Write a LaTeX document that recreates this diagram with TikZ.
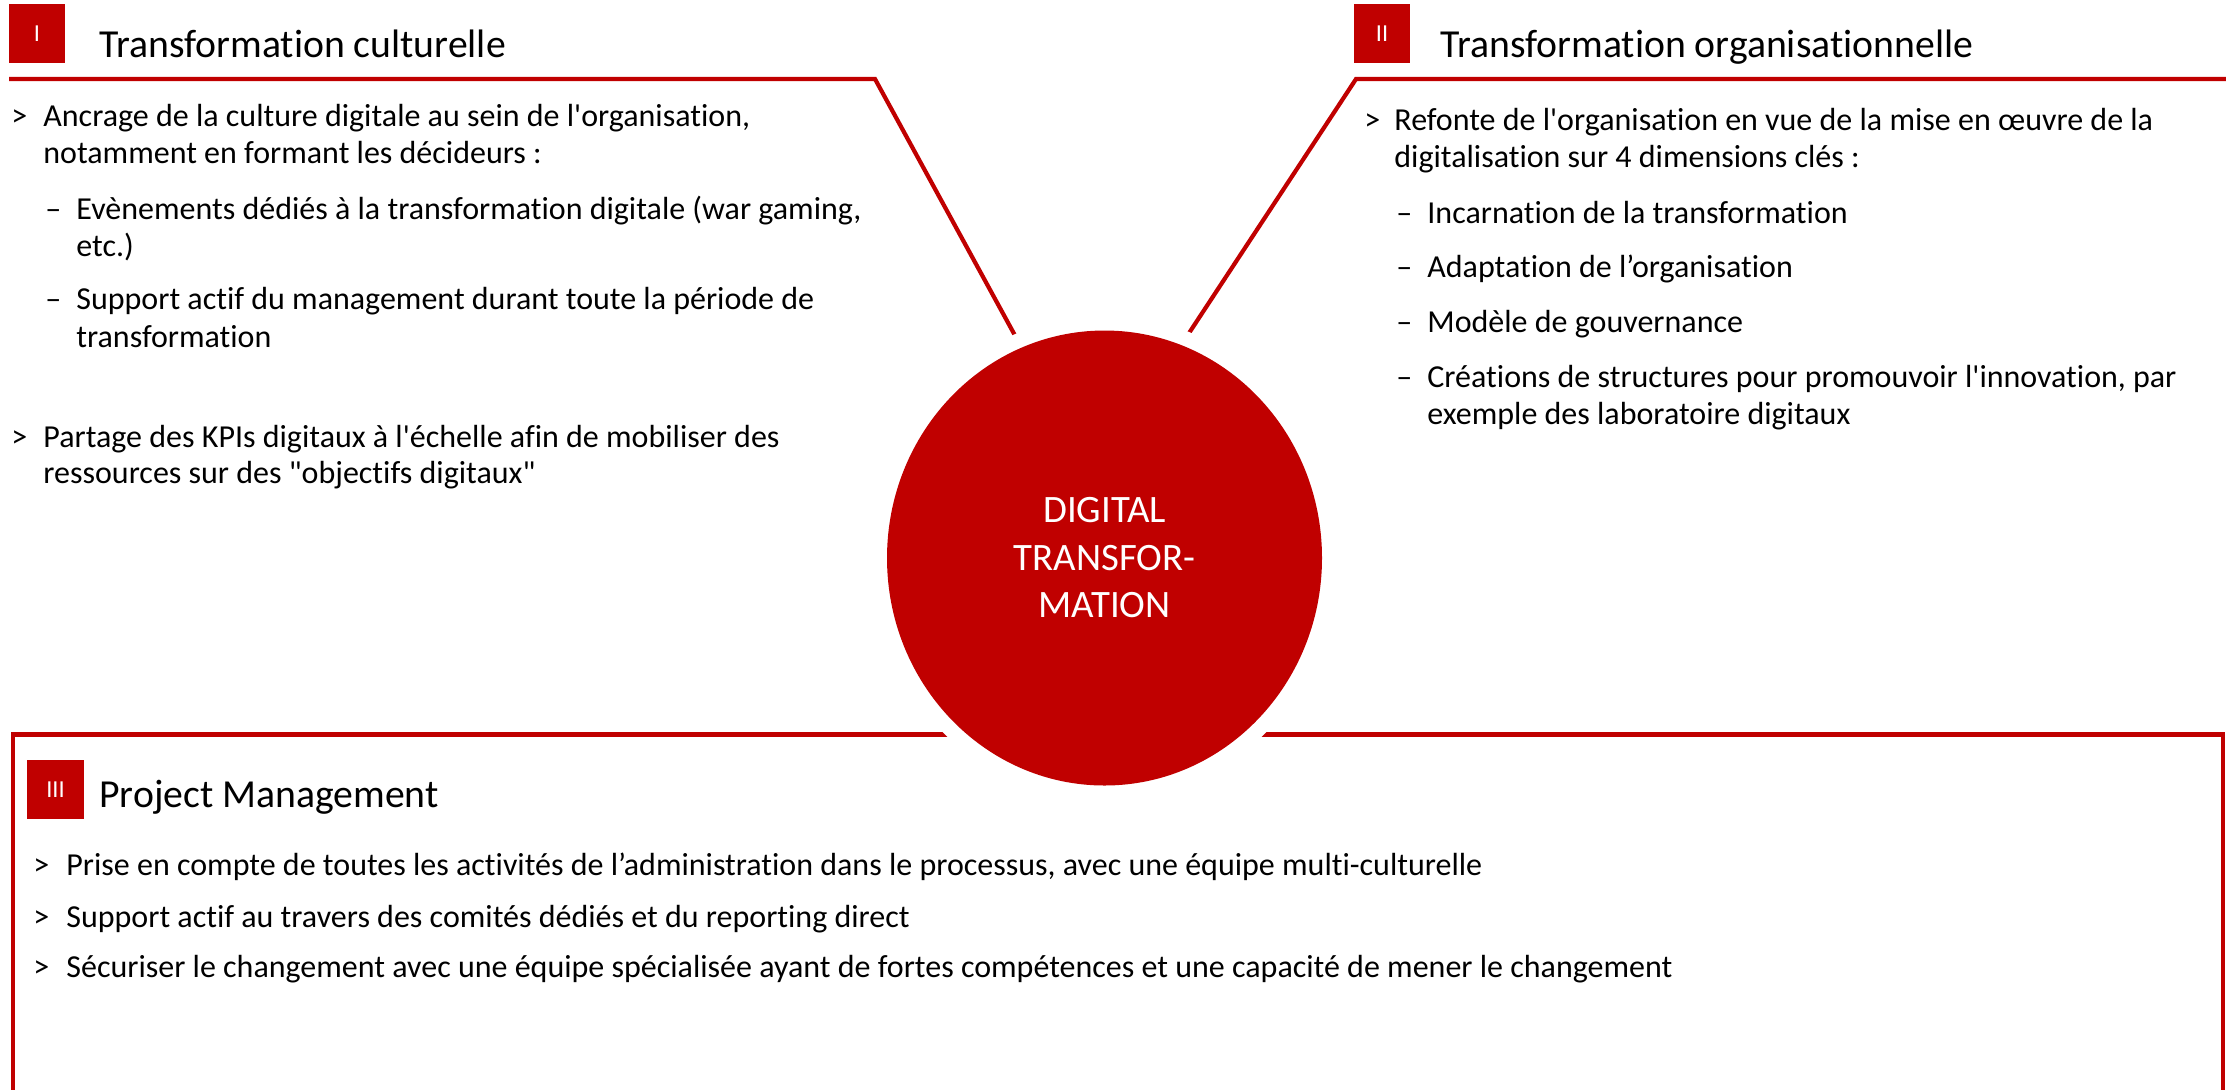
\documentclass[tikz,border=0pt]{standalone}
\usepackage{fontspec}
\setmainfont{Carlito}[Ligatures={TeXOff,NoCommon}]
\usetikzlibrary{shapes.geometric}
\definecolor{dtred}{HTML}{C00000}
\tikzset{
  body/.style={anchor=base west, inner sep=0pt, font=\fontsize{16}{18.5}\selectfont},
  ttl/.style={anchor=base west, inner sep=0pt, font=\fontsize{19.85}{23.5}\selectfont},
  numbox/.style={fill=dtred, text=white, inner sep=0pt, font=\fontsize{12.2}{14}\selectfont,
    minimum width=28pt, minimum height=29.5pt},
  frame/.style={draw=dtred, line width=2.1pt},
  core/.style={ellipse, fill=dtred, text=white, inner sep=0pt, align=center,
    minimum width=217.5pt, minimum height=227.5pt,
    font=\fontsize{19.4}{23.75}\selectfont,
    preaction={draw=white, line width=15pt}},
}
\begin{document}
\begin{tikzpicture}[x=0.5pt,y=-0.5pt]
\useasboundingbox (0,0) rectangle (2226,1089);
\clip (0,0) rectangle (2226,1089);
\fill[white] (0,0) rectangle (2226,1089);

% outlines
\coordinate (a1) at (9,79);
\coordinate (a2) at (875,79);
\coordinate (a3) at (1018,341);
\coordinate (c1) at (2226,79);
\coordinate (c2) at (1356,79);
\coordinate (c3) at (1185.5,338.4);
\coordinate (p1) at (13,1095);
\coordinate (p2) at (13,734.5);
\coordinate (p3) at (2223,734.5);
\coordinate (p4) at (2223,1095);
\draw[frame, line join=miter] (a1) -- (a2) -- (a3);
\draw[frame, line join=miter] (c1) -- (c2) -- (c3);
\draw[frame, line width=2.25pt, line join=miter] (p1) -- (p2) -- (p3) -- (p4);

% centre
\node[core] (dt) at (1104.5,558) {DIGITAL\\TRANSFOR-\\MATION};

% section I
\node[numbox] (n1) at (37,33.5) {I};
\node[ttl] (t1) at (99,57) {Transformation culturelle};
\node[body] (g1) at (11,126) {>};
\node[body] (g1a) at (43,126) {Ancrage de la culture digitale au sein de l'organisation,};
\node[body] (g1b) at (43,163) {notamment en formant les décideurs :};
\node[body] (h1) at (45,219) {–};
\node[body] (h1a) at (76,219) {Evènements dédiés à la transformation digitale (war gaming,};
\node[body] (h1b) at (76,256) {etc.)};
\node[body] (h2) at (45,309) {–};
\node[body] (h2a) at (76,309) {Support actif du management durant toute la période de};
\node[body] (h2b) at (76,347) {transformation};
\node[body] (g2) at (11,447) {>};
\node[body] (g2a) at (43,447) {Partage des KPIs digitaux à l'échelle afin de mobiliser des};
\node[body] (g2b) at (43,483) {ressources sur des "objectifs digitaux"};

% section II
\node[numbox] (n2) at (1382,33.5) {II};
\node[ttl] (t2) at (1440,57) {Transformation organisationnelle};
\node[body] (k1) at (1364,130) {>};
\node[body] (k1a) at (1394,130) {Refonte de l'organisation en vue de la mise en œuvre de la};
\node[body] (k1b) at (1394,167) {digitalisation sur 4 dimensions clés :};
\node[body] (m1) at (1396,223) {–};
\node[body] (m1a) at (1427,223) {Incarnation de la transformation};
\node[body] (m2) at (1396,277) {–};
\node[body] (m2a) at (1427,277) {Adaptation de l’organisation};
\node[body] (m3) at (1396,332) {–};
\node[body] (m3a) at (1427,332) {Modèle de gouvernance};
\node[body] (m4) at (1396,387) {–};
\node[body] (m4a) at (1427,387) {Créations de structures pour promouvoir l'innovation, par};
\node[body] (m4b) at (1427,424) {exemple des laboratoire digitaux};

% section III
\node[numbox, minimum width=28.5pt] (n3) at (55.5,789.5) {III};
\node[ttl] (t3) at (99,807) {Project Management};
\node[body] (q1) at (33,875) {>};
\node[body] (q1a) at (66,875) {Prise en compte de toutes les activités de l’administration dans le processus, avec une équipe multi-culturelle};
\node[body] (q2) at (33,927) {>};
\node[body] (q2a) at (66,927) {Support actif au travers des comités dédiés et du reporting direct};
\node[body] (q3) at (33,977) {>};
\node[body] (q3a) at (66,977) {Sécuriser le changement avec une équipe spécialisée ayant de fortes compétences et une capacité de mener le changement};
\end{tikzpicture}
\end{document}
